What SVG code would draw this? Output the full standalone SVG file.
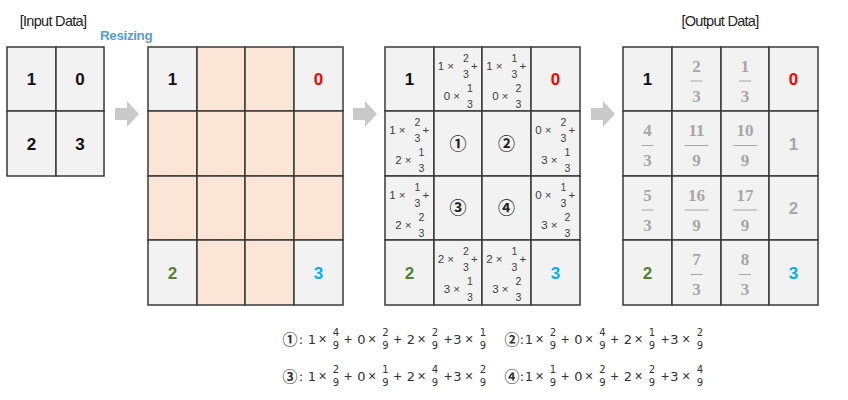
<svg xmlns="http://www.w3.org/2000/svg" width="848" height="400" viewBox="0 0 848 400">
<style>
.cell{fill:#f2f2f2;stroke:#3a3a3a;stroke-width:1.5}
.peach{fill:#fbe5d6;stroke:#3a3a3a;stroke-width:1.5}
.num{font-family:"Liberation Sans",Arial,sans-serif;font-weight:bold;font-size:17px;text-anchor:middle;fill:#111}
.red{fill:#ff0000}.green{fill:#538135}.blue{fill:#00b0f0}.gray{fill:#a6a6a6}
.lbl{font-family:"Liberation Sans",Arial,sans-serif;font-size:14.5px;fill:#222;text-anchor:middle;letter-spacing:-0.7px}
.ex{font-family:"Liberation Sans",Arial,sans-serif;font-size:11.5px;fill:#404040}
.fr{font-family:"Liberation Sans",Arial,sans-serif;font-size:10.5px;fill:#404040;text-anchor:middle}
.circ{font-family:"Noto Sans CJK KR","DejaVu Sans",sans-serif;font-weight:bold;font-size:17px;fill:#222;text-anchor:middle}
.ofr{font-family:"Liberation Serif","Times New Roman",serif;font-weight:bold;font-size:17px;fill:#a6a6a6;text-anchor:middle}
.bar{stroke:#a6a6a6;stroke-width:1}
.fm{font-family:"DejaVu Sans",sans-serif;font-size:13px;fill:#333;text-anchor:middle}
.op{font-family:"Liberation Sans",Arial,sans-serif;font-size:14px;fill:#333;text-anchor:middle}
.ff{font-family:"DejaVu Sans",sans-serif;font-size:10px;fill:#333;text-anchor:middle}
.fc{font-family:"Noto Sans CJK KR","DejaVu Sans",sans-serif;font-weight:bold;font-size:15px;fill:#333;text-anchor:middle}
.arrow{fill:#c9c9c9}
</style>

<g id="label-input"><text class="lbl" x="53" y="26">[Input Data]</text></g>
<g id="label-resizing"><text x="100" y="40" font-family="Liberation Sans, Arial, sans-serif" font-weight="bold" font-size="13.5px" fill="#5b9bd5" letter-spacing="-0.4">Resizing</text></g>
<g id="label-output"><text class="lbl" x="720" y="26">[Output Data]</text></g>

<g id="input-grid">
<rect class="cell" x="7" y="47" width="49" height="64"/>
<rect class="cell" x="56" y="47" width="48" height="64"/>
<rect class="cell" x="7" y="111" width="49" height="65"/>
<rect class="cell" x="56" y="111" width="48" height="65"/>
<text class="num" x="31.5" y="85">1</text>
<text class="num" x="80" y="85">0</text>
<text class="num" x="31.5" y="149.5">2</text>
<text class="num" x="80" y="149.5">3</text>
</g>

<g id="resized-grid">
<rect class="cell" x="148" y="47" width="49" height="64"/>
<rect class="peach" x="197" y="47" width="48" height="64"/>
<rect class="peach" x="245" y="47" width="49" height="64"/>
<rect class="cell" x="294" y="47" width="49" height="64"/>
<rect class="peach" x="148" y="111" width="49" height="65"/>
<rect class="peach" x="197" y="111" width="48" height="65"/>
<rect class="peach" x="245" y="111" width="49" height="65"/>
<rect class="peach" x="294" y="111" width="49" height="65"/>
<rect class="peach" x="148" y="176" width="49" height="64"/>
<rect class="peach" x="197" y="176" width="48" height="64"/>
<rect class="peach" x="245" y="176" width="49" height="64"/>
<rect class="peach" x="294" y="176" width="49" height="64"/>
<rect class="cell" x="148" y="240" width="49" height="65"/>
<rect class="peach" x="197" y="240" width="48" height="65"/>
<rect class="peach" x="245" y="240" width="49" height="65"/>
<rect class="cell" x="294" y="240" width="49" height="65"/>
<text class="num" x="172.5" y="85">1</text>
<text class="num red" x="318.5" y="85">0</text>
<text class="num green" x="172.5" y="278.5">2</text>
<text class="num blue" x="318.5" y="278.5">3</text>
</g>

<g id="weight-grid">
<rect class="cell" x="385" y="47" width="49" height="64"/>
<rect class="cell" x="434" y="47" width="48" height="64"/>
<rect class="cell" x="482" y="47" width="49" height="64"/>
<rect class="cell" x="531" y="47" width="49" height="64"/>
<rect class="cell" x="385" y="111" width="49" height="65"/>
<rect class="cell" x="434" y="111" width="48" height="65"/>
<rect class="cell" x="482" y="111" width="49" height="65"/>
<rect class="cell" x="531" y="111" width="49" height="65"/>
<rect class="cell" x="385" y="176" width="49" height="64"/>
<rect class="cell" x="434" y="176" width="48" height="64"/>
<rect class="cell" x="482" y="176" width="49" height="64"/>
<rect class="cell" x="531" y="176" width="49" height="64"/>
<rect class="cell" x="385" y="240" width="49" height="65"/>
<rect class="cell" x="434" y="240" width="48" height="65"/>
<rect class="cell" x="482" y="240" width="49" height="65"/>
<rect class="cell" x="531" y="240" width="49" height="65"/>
<text class="num" x="409.5" y="85">1</text>
<text class="num red" x="555.5" y="85">0</text>
<text class="num green" x="409.5" y="278.5">2</text>
<text class="num blue" x="555.5" y="278.5">3</text>
<text class="circ" x="458" y="149.5">①</text>
<text class="circ" x="506.5" y="149.5">②</text>
<text class="circ" x="458" y="214">③</text>
<text class="circ" x="506.5" y="214">④</text>
<!-- cell r1c2 -->
<text class="ex" x="454" y="70" text-anchor="end">1 ×</text>
<text class="fr" x="466" y="62">2</text><text class="fr" x="466" y="77.5">3</text>
<text class="ex" x="471" y="70">+</text>
<text class="ex" x="460" y="100" text-anchor="end">0 ×</text>
<text class="fr" x="470" y="92">1</text><text class="fr" x="470" y="107.5">3</text>
<!-- cell r1c3 -->
<text class="ex" x="502.5" y="70" text-anchor="end">1 ×</text>
<text class="fr" x="514.5" y="62">1</text><text class="fr" x="514.5" y="77.5">3</text>
<text class="ex" x="519.5" y="70">+</text>
<text class="ex" x="508.5" y="100" text-anchor="end">0 ×</text>
<text class="fr" x="518.5" y="92">2</text><text class="fr" x="518.5" y="107.5">3</text>
<!-- cell r2c1 -->
<text class="ex" x="405.5" y="134" text-anchor="end">1 ×</text>
<text class="fr" x="417.5" y="126">2</text><text class="fr" x="417.5" y="141.5">3</text>
<text class="ex" x="422.5" y="134">+</text>
<text class="ex" x="411.5" y="164" text-anchor="end">2 ×</text>
<text class="fr" x="421.5" y="156">1</text><text class="fr" x="421.5" y="171.5">3</text>
<!-- cell r2c4 -->
<text class="ex" x="551.5" y="134" text-anchor="end">0 ×</text>
<text class="fr" x="563.5" y="126">2</text><text class="fr" x="563.5" y="141.5">3</text>
<text class="ex" x="568.5" y="134">+</text>
<text class="ex" x="557.5" y="164" text-anchor="end">3 ×</text>
<text class="fr" x="567.5" y="156">1</text><text class="fr" x="567.5" y="171.5">3</text>
<!-- cell r3c1 -->
<text class="ex" x="405.5" y="199" text-anchor="end">1 ×</text>
<text class="fr" x="417.5" y="191">1</text><text class="fr" x="417.5" y="206.5">3</text>
<text class="ex" x="422.5" y="199">+</text>
<text class="ex" x="411.5" y="229" text-anchor="end">2 ×</text>
<text class="fr" x="421.5" y="221">2</text><text class="fr" x="421.5" y="236.5">3</text>
<!-- cell r3c4 -->
<text class="ex" x="551.5" y="199" text-anchor="end">0 ×</text>
<text class="fr" x="563.5" y="191">1</text><text class="fr" x="563.5" y="206.5">3</text>
<text class="ex" x="568.5" y="199">+</text>
<text class="ex" x="557.5" y="229" text-anchor="end">3 ×</text>
<text class="fr" x="567.5" y="221">2</text><text class="fr" x="567.5" y="236.5">3</text>
<!-- cell r4c2 -->
<text class="ex" x="454" y="263" text-anchor="end">2 ×</text>
<text class="fr" x="466" y="255">2</text><text class="fr" x="466" y="270.5">3</text>
<text class="ex" x="471" y="263">+</text>
<text class="ex" x="460" y="293" text-anchor="end">3 ×</text>
<text class="fr" x="470" y="285">1</text><text class="fr" x="470" y="300.5">3</text>
<!-- cell r4c3 -->
<text class="ex" x="502.5" y="263" text-anchor="end">2 ×</text>
<text class="fr" x="514.5" y="255">1</text><text class="fr" x="514.5" y="270.5">3</text>
<text class="ex" x="519.5" y="263">+</text>
<text class="ex" x="508.5" y="293" text-anchor="end">3 ×</text>
<text class="fr" x="518.5" y="285">2</text><text class="fr" x="518.5" y="300.5">3</text>
</g>

<g id="output-grid">
<rect class="cell" x="623" y="47" width="49" height="64"/>
<rect class="cell" x="672" y="47" width="49" height="64"/>
<rect class="cell" x="721" y="47" width="48" height="64"/>
<rect class="cell" x="769" y="47" width="49" height="64"/>
<rect class="cell" x="623" y="111" width="49" height="65"/>
<rect class="cell" x="672" y="111" width="49" height="65"/>
<rect class="cell" x="721" y="111" width="48" height="65"/>
<rect class="cell" x="769" y="111" width="49" height="65"/>
<rect class="cell" x="623" y="176" width="49" height="64"/>
<rect class="cell" x="672" y="176" width="49" height="64"/>
<rect class="cell" x="721" y="176" width="48" height="64"/>
<rect class="cell" x="769" y="176" width="49" height="64"/>
<rect class="cell" x="623" y="240" width="49" height="65"/>
<rect class="cell" x="672" y="240" width="49" height="65"/>
<rect class="cell" x="721" y="240" width="48" height="65"/>
<rect class="cell" x="769" y="240" width="49" height="65"/>
<text class="num" x="647.5" y="85">1</text>
<text class="num red" x="793.5" y="85">0</text>
<text class="num gray" x="793.5" y="149.5">1</text>
<text class="num gray" x="793.5" y="214">2</text>
<text class="num green" x="647.5" y="278.5">2</text>
<text class="num blue" x="793.5" y="278.5">3</text>
<!-- row 1 -->
<text class="ofr" x="696.5" y="71.5">2</text><line class="bar" x1="690.5" y1="81" x2="702.5" y2="81"/><text class="ofr" x="696.5" y="101.5">3</text>
<text class="ofr" x="745" y="71.5">1</text><line class="bar" x1="739" y1="81" x2="751" y2="81"/><text class="ofr" x="745" y="101.5">3</text>
<!-- row 2 -->
<text class="ofr" x="647.5" y="136">4</text><line class="bar" x1="641.5" y1="145.5" x2="653.5" y2="145.5"/><text class="ofr" x="647.5" y="166">3</text>
<text class="ofr" x="696.5" y="136">11</text><line class="bar" x1="684.5" y1="145.5" x2="708.5" y2="145.5"/><text class="ofr" x="696.5" y="166">9</text>
<text class="ofr" x="745" y="136">10</text><line class="bar" x1="733" y1="145.5" x2="757" y2="145.5"/><text class="ofr" x="745" y="166">9</text>
<!-- row 3 -->
<text class="ofr" x="647.5" y="200.5">5</text><line class="bar" x1="641.5" y1="210" x2="653.5" y2="210"/><text class="ofr" x="647.5" y="230.5">3</text>
<text class="ofr" x="696.5" y="200.5">16</text><line class="bar" x1="684.5" y1="210" x2="708.5" y2="210"/><text class="ofr" x="696.5" y="230.5">9</text>
<text class="ofr" x="745" y="200.5">17</text><line class="bar" x1="733" y1="210" x2="757" y2="210"/><text class="ofr" x="745" y="230.5">9</text>
<!-- row 4 -->
<text class="ofr" x="696.5" y="265">7</text><line class="bar" x1="690.5" y1="274.5" x2="702.5" y2="274.5"/><text class="ofr" x="696.5" y="295">3</text>
<text class="ofr" x="745" y="265">8</text><line class="bar" x1="739" y1="274.5" x2="751" y2="274.5"/><text class="ofr" x="745" y="295">3</text>
</g>

<g id="connectors">
<polygon class="arrow" points="115,108 127,108 127,101 139,114 127,127 127,120 115,120"/>
<polygon class="arrow" points="353,108 365,108 365,101 377,114 365,127 365,120 353,120"/>
<polygon class="arrow" points="591,108 603,108 603,101 615,114 603,127 603,120 591,120"/>
</g>

<g id="formula-1">
<text class="fc" x="290" y="344.5">①</text><text class="fm" x="301" y="343.5">:</text>
<text class="fm" x="312" y="343.5">1</text><text class="op" x="322.5" y="343.5">×</text>
<text class="ff" x="336" y="336">4</text><text class="ff" x="336" y="349">9</text>
<text class="op" x="348" y="343.5">+</text>
<text class="fm" x="361.5" y="343.5">0</text><text class="op" x="372" y="343.5">×</text>
<text class="ff" x="385.5" y="336">2</text><text class="ff" x="385.5" y="349">9</text>
<text class="op" x="397.5" y="343.5">+</text>
<text class="fm" x="411" y="343.5">2</text><text class="op" x="421.5" y="343.5">×</text>
<text class="ff" x="435" y="336">2</text><text class="ff" x="435" y="349">9</text>
<text class="op" x="448" y="343.5">+</text><text class="fm" x="457.5" y="343.5">3</text>
<text class="op" x="469" y="343.5">×</text>
<text class="ff" x="483" y="336">1</text><text class="ff" x="483" y="349">9</text>
</g>

<g id="formula-2">
<text class="fc" x="512" y="344.5">②</text><text class="fm" x="522" y="343.5">:</text>
<text class="fm" x="529" y="343.5">1</text><text class="op" x="539.5" y="343.5">×</text>
<text class="ff" x="553" y="336">2</text><text class="ff" x="553" y="349">9</text>
<text class="op" x="565" y="343.5">+</text>
<text class="fm" x="578.5" y="343.5">0</text><text class="op" x="589" y="343.5">×</text>
<text class="ff" x="602.5" y="336">4</text><text class="ff" x="602.5" y="349">9</text>
<text class="op" x="614.5" y="343.5">+</text>
<text class="fm" x="628" y="343.5">2</text><text class="op" x="638.5" y="343.5">×</text>
<text class="ff" x="652" y="336">1</text><text class="ff" x="652" y="349">9</text>
<text class="op" x="665" y="343.5">+</text><text class="fm" x="674.5" y="343.5">3</text>
<text class="op" x="686" y="343.5">×</text>
<text class="ff" x="700" y="336">2</text><text class="ff" x="700" y="349">9</text>
</g>

<g id="formula-3">
<text class="fc" x="290" y="381.5">③</text><text class="fm" x="301" y="380.5">:</text>
<text class="fm" x="312" y="380.5">1</text><text class="op" x="322.5" y="380.5">×</text>
<text class="ff" x="336" y="373">2</text><text class="ff" x="336" y="386">9</text>
<text class="op" x="348" y="380.5">+</text>
<text class="fm" x="361.5" y="380.5">0</text><text class="op" x="372" y="380.5">×</text>
<text class="ff" x="385.5" y="373">1</text><text class="ff" x="385.5" y="386">9</text>
<text class="op" x="397.5" y="380.5">+</text>
<text class="fm" x="411" y="380.5">2</text><text class="op" x="421.5" y="380.5">×</text>
<text class="ff" x="435" y="373">4</text><text class="ff" x="435" y="386">9</text>
<text class="op" x="448" y="380.5">+</text><text class="fm" x="457.5" y="380.5">3</text>
<text class="op" x="469" y="380.5">×</text>
<text class="ff" x="483" y="373">2</text><text class="ff" x="483" y="386">9</text>
</g>

<g id="formula-4">
<text class="fc" x="512" y="381.5">④</text><text class="fm" x="522" y="380.5">:</text>
<text class="fm" x="529" y="380.5">1</text><text class="op" x="539.5" y="380.5">×</text>
<text class="ff" x="553" y="373">1</text><text class="ff" x="553" y="386">9</text>
<text class="op" x="565" y="380.5">+</text>
<text class="fm" x="578.5" y="380.5">0</text><text class="op" x="589" y="380.5">×</text>
<text class="ff" x="602.5" y="373">2</text><text class="ff" x="602.5" y="386">9</text>
<text class="op" x="614.5" y="380.5">+</text>
<text class="fm" x="628" y="380.5">2</text><text class="op" x="638.5" y="380.5">×</text>
<text class="ff" x="652" y="373">2</text><text class="ff" x="652" y="386">9</text>
<text class="op" x="665" y="380.5">+</text><text class="fm" x="674.5" y="380.5">3</text>
<text class="op" x="686" y="380.5">×</text>
<text class="ff" x="700" y="373">4</text><text class="ff" x="700" y="386">9</text>
</g>
</svg>
